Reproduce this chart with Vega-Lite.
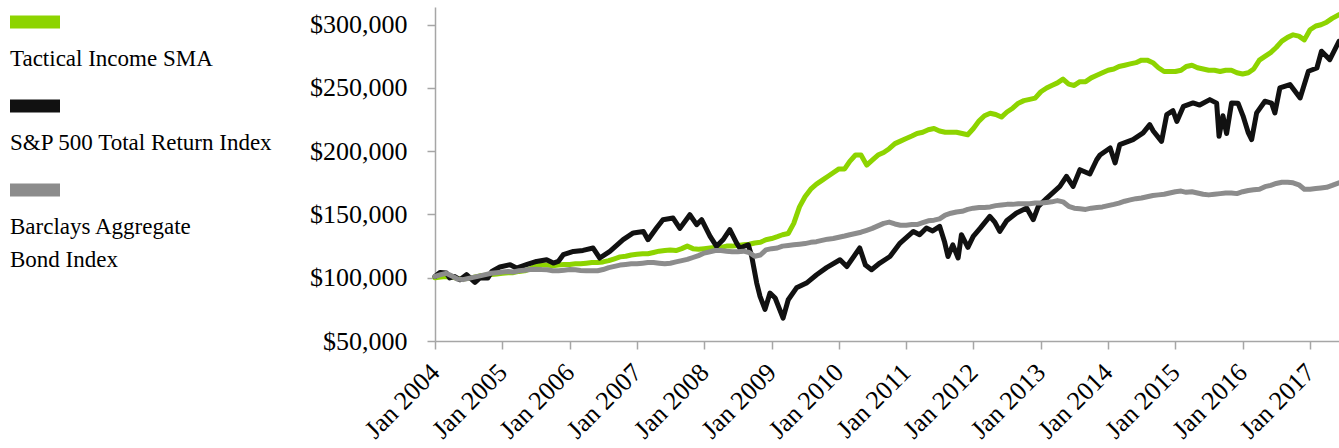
{
  "$schema": "https://vega.github.io/schema/vega-lite/v6.json",
  "width": 904,
  "height": 334,
  "padding": {"left": 10, "top": 7, "right": 0, "bottom": 0},
  "background": "white",
  "config": {
    "view": {"stroke": null},
    "font": "'Liberation Serif', 'Times New Roman', serif",
    "axis": {
      "domainColor": "#A6A6A6",
      "domainWidth": 1.5,
      "tickColor": "#A6A6A6",
      "tickWidth": 1.5,
      "labelFont": "'Liberation Serif', 'Times New Roman', serif",
      "labelFontSize": 26,
      "labelColor": "#000000",
      "grid": false,
      "title": null
    }
  },
  "datasets": {
    "tactical": [
      {"d": "2004-01-01", "v": 100000}, {"d": "2004-02-01", "v": 100500}, {"d": "2004-03-01", "v": 101000}, {"d": "2004-04-01", "v": 100500}, {"d": "2004-05-01", "v": 99500}, {"d": "2004-06-01", "v": 99000}, {"d": "2004-07-01", "v": 99500}, {"d": "2004-08-01", "v": 100500}, {"d": "2004-09-01", "v": 101500}, {"d": "2004-10-01", "v": 102000}, {"d": "2004-11-01", "v": 102500}, {"d": "2004-12-01", "v": 103000},
      {"d": "2005-01-01", "v": 103500}, {"d": "2005-02-01", "v": 104000}, {"d": "2005-03-01", "v": 104000}, {"d": "2005-04-01", "v": 105000}, {"d": "2005-05-01", "v": 105500}, {"d": "2005-06-01", "v": 107000}, {"d": "2005-07-01", "v": 109000}, {"d": "2005-08-01", "v": 110000}, {"d": "2005-09-01", "v": 110000}, {"d": "2005-10-01", "v": 109500}, {"d": "2005-11-01", "v": 110000}, {"d": "2005-12-01", "v": 110500},
      {"d": "2006-01-01", "v": 110500}, {"d": "2006-02-01", "v": 111000}, {"d": "2006-03-01", "v": 111000}, {"d": "2006-04-01", "v": 111500}, {"d": "2006-05-01", "v": 112000}, {"d": "2006-06-01", "v": 112000}, {"d": "2006-07-01", "v": 112500}, {"d": "2006-08-01", "v": 113500}, {"d": "2006-09-01", "v": 115000}, {"d": "2006-10-01", "v": 116500}, {"d": "2006-11-01", "v": 117000}, {"d": "2006-12-01", "v": 118000},
      {"d": "2007-01-01", "v": 118500}, {"d": "2007-02-01", "v": 119000}, {"d": "2007-03-01", "v": 119000}, {"d": "2007-04-01", "v": 120000}, {"d": "2007-05-01", "v": 121000}, {"d": "2007-06-01", "v": 121500}, {"d": "2007-07-01", "v": 122000}, {"d": "2007-08-01", "v": 121500}, {"d": "2007-09-01", "v": 123000}, {"d": "2007-10-01", "v": 125000}, {"d": "2007-11-01", "v": 123000}, {"d": "2007-12-01", "v": 122500},
      {"d": "2008-01-01", "v": 123000}, {"d": "2008-02-01", "v": 123500}, {"d": "2008-03-01", "v": 124000}, {"d": "2008-04-01", "v": 124000}, {"d": "2008-05-01", "v": 125000}, {"d": "2008-06-01", "v": 125000}, {"d": "2008-07-01", "v": 125500}, {"d": "2008-08-01", "v": 126000}, {"d": "2008-09-01", "v": 126500}, {"d": "2008-10-01", "v": 127500}, {"d": "2008-11-01", "v": 128000}, {"d": "2008-12-01", "v": 130000},
      {"d": "2009-01-01", "v": 131000}, {"d": "2009-02-01", "v": 132500}, {"d": "2009-03-01", "v": 134000}, {"d": "2009-04-01", "v": 135000}, {"d": "2009-05-01", "v": 143000}, {"d": "2009-06-01", "v": 156000}, {"d": "2009-07-01", "v": 164000}, {"d": "2009-08-01", "v": 170000}, {"d": "2009-09-01", "v": 174000}, {"d": "2009-10-01", "v": 177000}, {"d": "2009-11-01", "v": 180000}, {"d": "2009-12-01", "v": 183000},
      {"d": "2010-01-01", "v": 186000}, {"d": "2010-02-01", "v": 186000}, {"d": "2010-03-01", "v": 192000}, {"d": "2010-04-01", "v": 197000}, {"d": "2010-05-01", "v": 197000}, {"d": "2010-06-01", "v": 189000}, {"d": "2010-07-01", "v": 193000}, {"d": "2010-08-01", "v": 197000}, {"d": "2010-09-01", "v": 199000}, {"d": "2010-10-01", "v": 202000}, {"d": "2010-11-01", "v": 206000}, {"d": "2010-12-01", "v": 208000},
      {"d": "2011-01-01", "v": 210000}, {"d": "2011-02-01", "v": 212000}, {"d": "2011-03-01", "v": 214000}, {"d": "2011-04-01", "v": 215000}, {"d": "2011-05-01", "v": 217000}, {"d": "2011-06-01", "v": 218000}, {"d": "2011-07-01", "v": 216000}, {"d": "2011-08-01", "v": 215000}, {"d": "2011-09-01", "v": 215000}, {"d": "2011-10-01", "v": 215000}, {"d": "2011-11-01", "v": 214000}, {"d": "2011-12-01", "v": 213000},
      {"d": "2012-01-01", "v": 218000}, {"d": "2012-02-01", "v": 224000}, {"d": "2012-03-01", "v": 228000}, {"d": "2012-04-01", "v": 230000}, {"d": "2012-05-01", "v": 229000}, {"d": "2012-06-01", "v": 227000}, {"d": "2012-07-01", "v": 231000}, {"d": "2012-08-01", "v": 234000}, {"d": "2012-09-01", "v": 238000}, {"d": "2012-10-01", "v": 240000}, {"d": "2012-11-01", "v": 241000}, {"d": "2012-12-01", "v": 242000},
      {"d": "2013-01-01", "v": 247000}, {"d": "2013-02-01", "v": 250000}, {"d": "2013-03-01", "v": 252000}, {"d": "2013-04-01", "v": 254000}, {"d": "2013-05-01", "v": 257000}, {"d": "2013-06-01", "v": 253000}, {"d": "2013-07-01", "v": 252000}, {"d": "2013-08-01", "v": 255000}, {"d": "2013-09-01", "v": 255000}, {"d": "2013-10-01", "v": 258000}, {"d": "2013-11-01", "v": 260000}, {"d": "2013-12-01", "v": 262000},
      {"d": "2014-01-01", "v": 264000}, {"d": "2014-02-01", "v": 265000}, {"d": "2014-03-01", "v": 267000}, {"d": "2014-04-01", "v": 268000}, {"d": "2014-05-01", "v": 269000}, {"d": "2014-06-01", "v": 270000}, {"d": "2014-07-01", "v": 272000}, {"d": "2014-08-01", "v": 272000}, {"d": "2014-09-01", "v": 270000}, {"d": "2014-10-01", "v": 266000}, {"d": "2014-11-01", "v": 263000}, {"d": "2014-12-01", "v": 263000},
      {"d": "2015-01-01", "v": 263000}, {"d": "2015-02-01", "v": 264000}, {"d": "2015-03-01", "v": 267000}, {"d": "2015-04-01", "v": 268000}, {"d": "2015-05-01", "v": 266000}, {"d": "2015-06-01", "v": 265000}, {"d": "2015-07-01", "v": 264000}, {"d": "2015-08-01", "v": 264000}, {"d": "2015-09-01", "v": 263000}, {"d": "2015-10-01", "v": 264000}, {"d": "2015-11-01", "v": 264000}, {"d": "2015-12-01", "v": 262000},
      {"d": "2016-01-01", "v": 261000}, {"d": "2016-02-01", "v": 262000}, {"d": "2016-03-01", "v": 265000}, {"d": "2016-04-01", "v": 272000}, {"d": "2016-05-01", "v": 275000}, {"d": "2016-06-01", "v": 278000}, {"d": "2016-07-01", "v": 282000}, {"d": "2016-08-01", "v": 287000}, {"d": "2016-09-01", "v": 290000}, {"d": "2016-10-01", "v": 292000}, {"d": "2016-11-01", "v": 291000}, {"d": "2016-12-01", "v": 288000},
      {"d": "2017-01-01", "v": 296000}, {"d": "2017-02-01", "v": 299000}, {"d": "2017-03-01", "v": 300000}, {"d": "2017-04-01", "v": 302000}, {"d": "2017-05-01", "v": 305000}, {"d": "2017-06-07", "v": 308000}
    ],
    "sp": [
      {"d": "2004-01-01", "v": 101000}, {"d": "2004-01-28", "v": 104200}, {"d": "2004-03-03", "v": 103700}, {"d": "2004-03-21", "v": 99800}, {"d": "2004-04-15", "v": 101000}, {"d": "2004-05-15", "v": 98400}, {"d": "2004-06-20", "v": 102400}, {"d": "2004-08-05", "v": 96300}, {"d": "2004-09-01", "v": 99800}, {"d": "2004-10-14", "v": 99800}, {"d": "2004-11-04", "v": 105000}, {"d": "2004-12-18", "v": 108500},
      {"d": "2005-02-12", "v": 110300}, {"d": "2005-03-18", "v": 107700}, {"d": "2005-05-11", "v": 110300}, {"d": "2005-07-05", "v": 112900}, {"d": "2005-08-29", "v": 114200}, {"d": "2005-10-04", "v": 111600}, {"d": "2005-10-31", "v": 112900}, {"d": "2005-11-27", "v": 118200},
      {"d": "2006-01-21", "v": 120800}, {"d": "2006-03-14", "v": 121600}, {"d": "2006-05-08", "v": 123500}, {"d": "2006-06-13", "v": 115600}, {"d": "2006-08-07", "v": 120800}, {"d": "2006-10-18", "v": 130100}, {"d": "2006-12-12", "v": 135400},
      {"d": "2007-02-05", "v": 136600}, {"d": "2007-03-02", "v": 130100}, {"d": "2007-04-17", "v": 139300}, {"d": "2007-05-22", "v": 145900}, {"d": "2007-07-16", "v": 147200}, {"d": "2007-08-22", "v": 139000}, {"d": "2007-10-15", "v": 149800}, {"d": "2007-11-21", "v": 142000}, {"d": "2007-12-18", "v": 145900},
      {"d": "2008-02-02", "v": 132700}, {"d": "2008-03-08", "v": 124800}, {"d": "2008-04-12", "v": 130000}, {"d": "2008-05-19", "v": 138000}, {"d": "2008-06-25", "v": 127400}, {"d": "2008-07-12", "v": 123500}, {"d": "2008-08-27", "v": 126100}, {"d": "2008-09-15", "v": 116800}, {"d": "2008-10-12", "v": 95800}, {"d": "2008-10-30", "v": 85200}, {"d": "2008-11-26", "v": 75000}, {"d": "2008-12-23", "v": 87900},
      {"d": "2009-01-20", "v": 84000}, {"d": "2009-03-04", "v": 68100}, {"d": "2009-04-01", "v": 82600}, {"d": "2009-05-16", "v": 92000}, {"d": "2009-07-09", "v": 95800}, {"d": "2009-09-02", "v": 102400}, {"d": "2009-10-26", "v": 108000},
      {"d": "2010-01-07", "v": 114200}, {"d": "2010-02-13", "v": 108900}, {"d": "2010-04-24", "v": 123500}, {"d": "2010-05-25", "v": 110000}, {"d": "2010-06-27", "v": 106300}, {"d": "2010-08-11", "v": 111600}, {"d": "2010-10-05", "v": 116800}, {"d": "2010-11-29", "v": 127400},
      {"d": "2011-02-09", "v": 136600}, {"d": "2011-03-15", "v": 134000}, {"d": "2011-04-21", "v": 139300}, {"d": "2011-05-25", "v": 137000}, {"d": "2011-07-02", "v": 140600}, {"d": "2011-07-29", "v": 128000}, {"d": "2011-08-16", "v": 116800}, {"d": "2011-09-11", "v": 126000}, {"d": "2011-10-10", "v": 115600}, {"d": "2011-10-28", "v": 134000}, {"d": "2011-12-02", "v": 124000}, {"d": "2011-12-31", "v": 132700},
      {"d": "2012-02-06", "v": 139000}, {"d": "2012-03-30", "v": 148500}, {"d": "2012-04-26", "v": 144000}, {"d": "2012-05-23", "v": 136600}, {"d": "2012-06-29", "v": 145000}, {"d": "2012-08-22", "v": 151200}, {"d": "2012-10-16", "v": 155100}, {"d": "2012-11-21", "v": 145900}, {"d": "2012-12-18", "v": 156400},
      {"d": "2013-02-03", "v": 163000}, {"d": "2013-04-14", "v": 172200}, {"d": "2013-05-20", "v": 180100}, {"d": "2013-06-25", "v": 172200}, {"d": "2013-08-01", "v": 185400}, {"d": "2013-09-24", "v": 182000}, {"d": "2013-10-31", "v": 193300}, {"d": "2013-11-18", "v": 197000},
      {"d": "2014-01-12", "v": 202600}, {"d": "2014-02-08", "v": 190700}, {"d": "2014-03-05", "v": 205200}, {"d": "2014-05-16", "v": 209200}, {"d": "2014-07-10", "v": 214500}, {"d": "2014-08-15", "v": 221000}, {"d": "2014-09-03", "v": 216000}, {"d": "2014-10-18", "v": 207800}, {"d": "2014-11-15", "v": 228900}, {"d": "2014-12-19", "v": 232000},
      {"d": "2015-01-09", "v": 223600}, {"d": "2015-02-14", "v": 235500}, {"d": "2015-04-07", "v": 238200}, {"d": "2015-05-13", "v": 236500}, {"d": "2015-07-07", "v": 240800}, {"d": "2015-08-13", "v": 238000}, {"d": "2015-08-26", "v": 211800}, {"d": "2015-09-16", "v": 228000}, {"d": "2015-10-06", "v": 214000}, {"d": "2015-11-02", "v": 238200}, {"d": "2015-12-07", "v": 238000},
      {"d": "2016-01-03", "v": 228000}, {"d": "2016-02-01", "v": 214500}, {"d": "2016-02-19", "v": 209200}, {"d": "2016-03-17", "v": 230300}, {"d": "2016-05-01", "v": 239500}, {"d": "2016-06-06", "v": 238000}, {"d": "2016-06-24", "v": 230300}, {"d": "2016-07-21", "v": 250000}, {"d": "2016-09-14", "v": 252700}, {"d": "2016-11-08", "v": 242100}, {"d": "2016-12-23", "v": 263200},
      {"d": "2017-02-07", "v": 265800}, {"d": "2017-03-04", "v": 279000}, {"d": "2017-04-18", "v": 272400}, {"d": "2017-06-07", "v": 286900}
    ],
    "bond": [
      {"d": "2004-01-01", "v": 101000}, {"d": "2004-02-01", "v": 102500}, {"d": "2004-03-01", "v": 103500}, {"d": "2004-04-01", "v": 101500}, {"d": "2004-05-01", "v": 99000}, {"d": "2004-06-01", "v": 98500}, {"d": "2004-07-01", "v": 99500}, {"d": "2004-08-01", "v": 100500}, {"d": "2004-09-01", "v": 101500}, {"d": "2004-10-01", "v": 102500}, {"d": "2004-11-01", "v": 103500}, {"d": "2004-12-01", "v": 104000},
      {"d": "2005-01-01", "v": 104500}, {"d": "2005-02-01", "v": 105000}, {"d": "2005-03-01", "v": 104500}, {"d": "2005-04-01", "v": 105500}, {"d": "2005-05-01", "v": 106000}, {"d": "2005-06-01", "v": 106500}, {"d": "2005-07-01", "v": 106800}, {"d": "2005-08-01", "v": 106500}, {"d": "2005-09-01", "v": 106300}, {"d": "2005-10-01", "v": 105500}, {"d": "2005-11-01", "v": 105500}, {"d": "2005-12-01", "v": 106000},
      {"d": "2006-01-01", "v": 106500}, {"d": "2006-02-01", "v": 106300}, {"d": "2006-03-01", "v": 105800}, {"d": "2006-04-01", "v": 105500}, {"d": "2006-05-01", "v": 105500}, {"d": "2006-06-01", "v": 105500}, {"d": "2006-07-01", "v": 106500}, {"d": "2006-08-01", "v": 108000}, {"d": "2006-09-01", "v": 109000}, {"d": "2006-10-01", "v": 110000}, {"d": "2006-11-01", "v": 110500}, {"d": "2006-12-01", "v": 111000},
      {"d": "2007-01-01", "v": 111000}, {"d": "2007-02-01", "v": 111500}, {"d": "2007-03-01", "v": 112000}, {"d": "2007-04-01", "v": 112000}, {"d": "2007-05-01", "v": 111500}, {"d": "2007-06-01", "v": 111000}, {"d": "2007-07-01", "v": 111500}, {"d": "2007-08-01", "v": 112500}, {"d": "2007-09-01", "v": 113500}, {"d": "2007-10-01", "v": 114500}, {"d": "2007-11-01", "v": 116000}, {"d": "2007-12-01", "v": 117500},
      {"d": "2008-01-01", "v": 119500}, {"d": "2008-02-01", "v": 120500}, {"d": "2008-03-01", "v": 121500}, {"d": "2008-04-01", "v": 121500}, {"d": "2008-05-01", "v": 121000}, {"d": "2008-06-01", "v": 120500}, {"d": "2008-07-01", "v": 120500}, {"d": "2008-08-01", "v": 121000}, {"d": "2008-09-01", "v": 120000}, {"d": "2008-10-01", "v": 117000}, {"d": "2008-11-01", "v": 118000}, {"d": "2008-12-01", "v": 122000},
      {"d": "2009-01-01", "v": 123000}, {"d": "2009-02-01", "v": 123500}, {"d": "2009-03-01", "v": 125000}, {"d": "2009-04-01", "v": 125500}, {"d": "2009-05-01", "v": 126000}, {"d": "2009-06-01", "v": 126500}, {"d": "2009-07-01", "v": 127000}, {"d": "2009-08-01", "v": 128000}, {"d": "2009-09-01", "v": 128500}, {"d": "2009-10-01", "v": 129500}, {"d": "2009-11-01", "v": 130500}, {"d": "2009-12-01", "v": 131000},
      {"d": "2010-01-01", "v": 132000}, {"d": "2010-02-01", "v": 133000}, {"d": "2010-03-01", "v": 134000}, {"d": "2010-04-01", "v": 135000}, {"d": "2010-05-01", "v": 136000}, {"d": "2010-06-01", "v": 137500}, {"d": "2010-07-01", "v": 139000}, {"d": "2010-08-01", "v": 141000}, {"d": "2010-09-01", "v": 143000}, {"d": "2010-10-01", "v": 144000}, {"d": "2010-11-01", "v": 142500}, {"d": "2010-12-01", "v": 141500},
      {"d": "2011-01-01", "v": 141500}, {"d": "2011-02-01", "v": 142000}, {"d": "2011-03-01", "v": 142000}, {"d": "2011-04-01", "v": 143500}, {"d": "2011-05-01", "v": 145000}, {"d": "2011-06-01", "v": 145500}, {"d": "2011-07-01", "v": 146500}, {"d": "2011-08-01", "v": 149500}, {"d": "2011-09-01", "v": 151000}, {"d": "2011-10-01", "v": 152000}, {"d": "2011-11-01", "v": 152500}, {"d": "2011-12-01", "v": 154000},
      {"d": "2012-01-01", "v": 155000}, {"d": "2012-02-01", "v": 155500}, {"d": "2012-03-01", "v": 155500}, {"d": "2012-04-01", "v": 156000}, {"d": "2012-05-01", "v": 157000}, {"d": "2012-06-01", "v": 157500}, {"d": "2012-07-01", "v": 158000}, {"d": "2012-08-01", "v": 158000}, {"d": "2012-09-01", "v": 158500}, {"d": "2012-10-01", "v": 158500}, {"d": "2012-11-01", "v": 158500}, {"d": "2012-12-01", "v": 159000},
      {"d": "2013-01-01", "v": 159000}, {"d": "2013-02-01", "v": 159500}, {"d": "2013-03-01", "v": 160000}, {"d": "2013-04-01", "v": 161000}, {"d": "2013-05-01", "v": 160000}, {"d": "2013-06-01", "v": 156500}, {"d": "2013-07-01", "v": 155000}, {"d": "2013-08-01", "v": 154500}, {"d": "2013-09-01", "v": 154000}, {"d": "2013-10-01", "v": 155000}, {"d": "2013-11-01", "v": 155500}, {"d": "2013-12-01", "v": 156000},
      {"d": "2014-01-01", "v": 157000}, {"d": "2014-02-01", "v": 158000}, {"d": "2014-03-01", "v": 159000}, {"d": "2014-04-01", "v": 160500}, {"d": "2014-05-01", "v": 161500}, {"d": "2014-06-01", "v": 162500}, {"d": "2014-07-01", "v": 163000}, {"d": "2014-08-01", "v": 164000}, {"d": "2014-09-01", "v": 165000}, {"d": "2014-10-01", "v": 165500}, {"d": "2014-11-01", "v": 166000}, {"d": "2014-12-01", "v": 167000},
      {"d": "2015-01-01", "v": 168000}, {"d": "2015-02-01", "v": 168500}, {"d": "2015-03-01", "v": 167500}, {"d": "2015-04-01", "v": 168000}, {"d": "2015-05-01", "v": 167000}, {"d": "2015-06-01", "v": 166000}, {"d": "2015-07-01", "v": 165500}, {"d": "2015-08-01", "v": 166000}, {"d": "2015-09-01", "v": 166500}, {"d": "2015-10-01", "v": 167000}, {"d": "2015-11-01", "v": 167000}, {"d": "2015-12-01", "v": 166500},
      {"d": "2016-01-01", "v": 168000}, {"d": "2016-02-01", "v": 169000}, {"d": "2016-03-01", "v": 169500}, {"d": "2016-04-01", "v": 170000}, {"d": "2016-05-01", "v": 172000}, {"d": "2016-06-01", "v": 173000}, {"d": "2016-07-01", "v": 174500}, {"d": "2016-08-01", "v": 175500}, {"d": "2016-09-01", "v": 175500}, {"d": "2016-10-01", "v": 175000}, {"d": "2016-11-01", "v": 173500}, {"d": "2016-12-01", "v": 170000},
      {"d": "2017-01-01", "v": 170000}, {"d": "2017-02-01", "v": 170500}, {"d": "2017-03-01", "v": 171000}, {"d": "2017-04-01", "v": 171500}, {"d": "2017-05-01", "v": 173000}, {"d": "2017-06-07", "v": 175000}
    ]
  },
  "encoding": {
    "x": {
      "field": "d",
      "type": "temporal",
      "scale": {"domain": [{"year": 2004, "month": 1, "date": 1}, {"year": 2017, "month": 6, "date": 7}]},
      "axis": {
        "format": "%b %Y",
        "tickCount": {"interval": "year", "step": 1},
        "labelAngle": -45,
        "labelAlign": "right",
        "labelBaseline": "middle",
        "labelPadding": 19,
        "tickSize": 8,
        "labelOverlap": false,
        "labelBound": false,
        "labelFlush": false
      }
    },
    "y": {
      "field": "v",
      "type": "quantitative",
      "scale": {"domain": [50000, 314000], "nice": false, "zero": false},
      "axis": {
        "values": [50000, 100000, 150000, 200000, 250000, 300000],
        "format": "$,.0f",
        "tickSize": 8,
        "labelPadding": 20
      }
    }
  },
  "layer": [
    {
      "data": {"name": "tactical"},
      "mark": {"type": "line", "strokeWidth": 5, "strokeJoin": "round", "strokeCap": "round"},
      "encoding": {
        "color": {
          "datum": "Tactical Income SMA",
          "type": "nominal",
          "scale": {
            "domain": ["Tactical Income SMA", "S&P 500 Total Return Index", "Barclays Aggregate Bond Index"],
            "range": ["#8DD400", "#111111", "#8C8C8C"]
          },
          "legend": {
            "orient": "none",
            "legendX": -425,
            "legendY": 46,
            "direction": "vertical",
            "title": null,
            "symbolType": "M-1,-4H3V-2.96H-1Z",
            "symbolSize": 625,
            "symbolStrokeWidth": 0,
            "labelFont": "'Liberation Serif', 'Times New Roman', serif",
            "labelFontSize": 23,
            "labelColor": "#000000",
            "labelBaseline": "alphabetic",
            "labelOffset": -25,
            "rowPadding": 28,
            "labelLimit": 0,
            "labelExpr": "datum.label == 'Barclays Aggregate Bond Index' ? ['Barclays Aggregate', 'Bond Index'] : datum.label",
            "encode": {
              "symbols": {"update": {"fill": {"scale": "color", "field": "value"}, "strokeWidth": {"value": 0}, "opacity": {"value": 1}}},
              "labels": {"update": {"lineHeight": {"value": 33}}}
            }
          }
        }
      }
    },
    {
      "data": {"name": "sp"},
      "mark": {"type": "line", "strokeWidth": 5, "strokeJoin": "round", "strokeCap": "round"},
      "encoding": {"color": {"datum": "S&P 500 Total Return Index", "type": "nominal"}}
    },
    {
      "data": {"name": "bond"},
      "mark": {"type": "line", "strokeWidth": 5, "strokeJoin": "round", "strokeCap": "round"},
      "encoding": {"color": {"datum": "Barclays Aggregate Bond Index", "type": "nominal"}}
    }
  ]
}
